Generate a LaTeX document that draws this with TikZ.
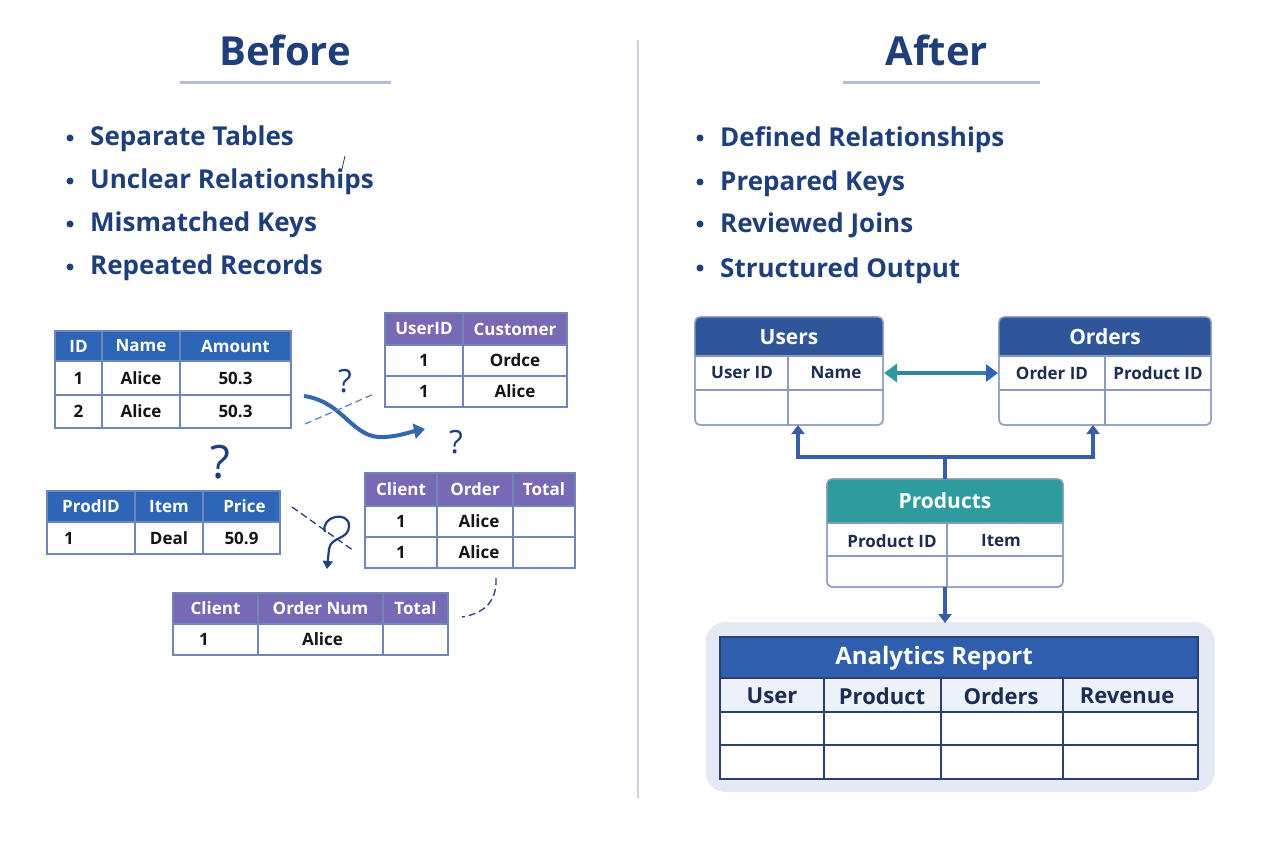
\documentclass[tikz,border=0pt]{standalone}
\usepackage{fontspec}
\setmainfont{Open Sans}
\usetikzlibrary{arrows.meta,calc}
\definecolor{navy}{HTML}{1F3F7A}
\definecolor{hblue}{HTML}{2D66B7}
\definecolor{hpurple}{HTML}{7869B6}
\definecolor{tborder}{HTML}{6F86B8}
\definecolor{celltxt}{HTML}{151515}
\definecolor{hdark}{HTML}{2F5699}
\definecolor{tealh}{HTML}{2E9C9E}
\definecolor{conn}{HTML}{3A5DA8}
\definecolor{rbord}{HTML}{8C9CC0}
\definecolor{subtxt}{HTML}{1C2D52}
\definecolor{abg}{HTML}{E3E9F5}
\definecolor{ahead}{HTML}{2F5EAE}
\definecolor{arow}{HTML}{EDF1F9}
\definecolor{aborder}{HTML}{2B3F73}
\definecolor{divc}{HTML}{C9D2E3}
\definecolor{uline}{HTML}{B4BDD5}
\definecolor{curvec}{HTML}{3468AD}
\newcommand\fs[1]{\fontsize{#1}{#1}\selectfont}
\newcommand\tcell[7]{\node[#6, minimum width={(#4)-(#2)}, minimum height={(#5)-(#3)}] (#1) at ({((#2)+(#4))/2},{((#3)+(#5))/2}) {#7};}
\tikzset{
  base/.style={inner sep=0pt, outer sep=0pt, rectangle},
  hb/.style={base, draw=tborder, line width=1.2pt, fill=hblue, text=white, font=\bfseries\fs{17}},
  hp/.style={base, draw=tborder, line width=1.2pt, fill=hpurple, text=white, font=\bfseries\fs{17}},
  bc/.style={base, draw=tborder, line width=1.2pt, fill=white, text=celltxt, font=\bfseries\fs{17}},
  title/.style={inner sep=0pt, text=navy, font=\bfseries\fs{40}, anchor=base},
  bul/.style={circle, fill=navy, inner sep=0pt, minimum size=7pt},
  btxt/.style={inner sep=0pt, text=navy, font=\bfseries\fs{26}, anchor=base west},
  qm/.style={inner sep=0pt, text=navy, font=\fs{32}},
  rframe/.style={base, draw=rbord, line width=1.3pt, fill=white, rounded corners=5pt},
  rtitle/.style={inner sep=0pt, text=white, font=\bfseries\fs{21}},
  rsub/.style={inner sep=0pt, text=subtxt, font=\bfseries\fs{17}},
  asub/.style={inner sep=0pt, text=subtxt, font=\bfseries\fs{22}},
  connl/.style={draw=conn, line width=3.5pt},
  tip/.style={-{Triangle[width=13pt,length=9pt]}},
}
\begin{document}
\begin{tikzpicture}[x=1pt,y=-1pt]
\useasboundingbox (0,0) rectangle (1280,853);
\fill[white] (0,0) rectangle (1280,853);

% divider
\draw[divc, line width=1.5pt] (638,40) -- (638,798);

% titles
\node[title] (tbefore) at (285,66) {Before};
\draw[uline, line width=3pt] (180,83) -- (391,83);
\node[title] (tafter) at (937,66) {After};
\draw[uline, line width=3pt] (843,83) -- (1040,83);

% left bullets
\node[bul] (lb1) at (70,138) {};
\node[btxt] (lt1) at (90,146) {Separate Tables};
\node[bul] (lb2) at (70,181) {};
\node[btxt] (lt2) at (90,189) {Unclear Relationships};
\node[bul] (lb3) at (70,224) {};
\node[btxt] (lt3) at (90,232) {Mismatched Keys};
\node[bul] (lb4) at (70,267) {};
\node[btxt] (lt4) at (90,275) {Repeated Records};
\draw[navy, line width=0.8pt] (342,169) -- (345,156);

% right bullets
\node[bul] (rb1) at (700,138) {};
\node[btxt] (rt1) at (720,147) {Defined Relationships};
\node[bul] (rb2) at (700,182) {};
\node[btxt] (rt2) at (720,191) {Prepared Keys};
\node[bul] (rb3) at (700,224) {};
\node[btxt] (rt3) at (720,233) {Reviewed Joins};
\node[bul] (rb4) at (700,268) {};
\node[btxt] (rt4) at (720,277) {Structured Output};

% ---------- Left tables ----------
% T1
\tcell{a11}{55}{331}{102}{361}{hb}{ID}
\tcell{a12}{102}{331}{180}{361}{hb}{Name}
\tcell{a13}{180}{331}{291}{361}{hb}{Amount}
\tcell{a21}{55}{361}{102}{395}{bc}{1}
\tcell{a22}{102}{361}{180}{395}{bc}{Alice}
\tcell{a23}{180}{361}{291}{395}{bc}{50.3}
\tcell{a31}{55}{395}{102}{428}{bc}{2}
\tcell{a32}{102}{395}{180}{428}{bc}{Alice}
\tcell{a33}{180}{395}{291}{428}{bc}{50.3}

% T2
\tcell{b11}{385}{313}{463}{345}{hp}{UserID}
\tcell{b12}{463}{313}{567}{345}{hp}{Customer}
\tcell{b21}{385}{345}{463}{376}{bc}{1}
\tcell{b22}{463}{345}{567}{376}{bc}{Ordce}
\tcell{b31}{385}{376}{463}{407}{bc}{1}
\tcell{b32}{463}{376}{567}{407}{bc}{Alice}

% T3
\tcell{c11}{47}{491}{135}{522}{hb}{ProdID}
\tcell{c12}{135}{491}{203}{522}{hb}{Item}
\tcell{c13}{203}{491}{280}{522}{hb}{\hspace{6pt}Price}
\tcell{c21}{47}{522}{135}{554}{bc}{}
\node[inner sep=0pt, text=celltxt, font=\bfseries\fs{17}, anchor=west] (c21t) at ([xshift=17pt]c21.west) {1};
\tcell{c22}{135}{522}{203}{554}{bc}{Deal}
\tcell{c23}{203}{522}{280}{554}{bc}{50.9}

% T4
\tcell{d11}{365}{473}{437}{506}{hp}{Client}
\tcell{d12}{437}{473}{513}{506}{hp}{Order}
\tcell{d13}{513}{473}{575}{506}{hp}{Total}
\tcell{d21}{365}{506}{437}{537}{bc}{1}
\tcell{d22}{437}{506}{513}{537}{bc}{\hspace{8pt}Alice}
\tcell{d23}{513}{506}{575}{537}{bc}{}
\tcell{d31}{365}{537}{437}{568}{bc}{1}
\tcell{d32}{437}{537}{513}{568}{bc}{\hspace{8pt}Alice}
\tcell{d33}{513}{537}{575}{568}{bc}{}

% T5
\tcell{e11}{173}{593}{258}{624}{hp}{Client}
\tcell{e12}{258}{593}{383}{624}{hp}{Order Num}
\tcell{e13}{383}{593}{448}{624}{hp}{Total}
\tcell{e21}{173}{624}{258}{655}{bc}{}
\node[inner sep=0pt, text=celltxt, font=\bfseries\fs{17}, anchor=west] (e21t) at ([xshift=26pt]e21.west) {1};
\tcell{e22}{258}{624}{383}{655}{bc}{\hspace{4pt}Alice}
\tcell{e23}{383}{624}{448}{655}{bc}{}

% confusing connectors
\coordinate (cv0) at (304,396);
\coordinate (cv1) at (425,429);
\draw[curvec, line width=4pt, -{Triangle[width=15pt,length=11pt]}]
  (cv0) .. controls (345,402) and (352,440) .. (385,437) .. controls (400,436) and (410,432) .. (cv1);
\coordinate (ds0) at (305,424);
\coordinate (ds1) at (374,394);
\draw[curvec!80, line width=1.3pt, dash pattern=on 7pt off 4pt] (ds0) -- (ds1);
\node[qm] (q1) at (345,381) {?};
\node[qm] (q2) at (456,442) {?};
\node[inner sep=0pt, text=navy, font=\fs{46}] (q3) at (220,462) {?};

\coordinate (ds2) at (292,507);
\coordinate (ds3) at (354,551);
\draw[navy, line width=1.3pt, dash pattern=on 7pt off 4pt] (ds2) -- (ds3);
\coordinate (qc) at (327,569);
\draw[navy, line width=2.2pt, -{Triangle[width=10pt,length=8pt]}]
  (325,532) .. controls (320,516) and (349,510) .. (349,526)
  .. controls (349,540) and (331,536) .. (329,549) -- (qc);

\coordinate (ds4) at (496,578);
\coordinate (ds5) at (462,617);
\draw[navy, line width=1.3pt, dash pattern=on 7pt off 4pt]
  (ds4) .. controls (497,600) and (486,613) .. (ds5);

% ---------- Right side ----------
% Users
\node[rframe, minimum width=188, minimum height=108] (users) at (789,371) {};
\fill[hdark] (695,356) [rounded corners=5pt] -- (695,317) -- (883,317) [sharp corners] -- (883,356) -- cycle;
\draw[rbord, line width=1.3pt] (695,356) -- (883,356) (695,390) -- (883,390) (788,356) -- (788,425);
\draw[rbord, line width=1.3pt, rounded corners=5pt] (695,317) rectangle (883,425);
\node[rtitle] (usersT) at (789,337) {Users};
\node[rsub] (uid) at (742,373) {User ID};
\node[rsub] (uname) at (836,373) {Name};

% Orders
\node[rframe, minimum width=212, minimum height=108] (orders) at (1105,371) {};
\fill[hdark] (999,356) [rounded corners=5pt] -- (999,317) -- (1211,317) [sharp corners] -- (1211,356) -- cycle;
\draw[rbord, line width=1.3pt] (999,356) -- (1211,356) (999,390) -- (1211,390) (1105,356) -- (1105,425);
\draw[rbord, line width=1.3pt, rounded corners=5pt] (999,317) rectangle (1211,425);
\node[rtitle] (ordersT) at (1105,337) {Orders};
\node[rsub] (oid) at (1052,373) {Order ID};
\node[rsub] (opid) at (1158,373) {Product ID};

% double arrow
\draw[line width=4.5pt, tealh!55!hblue, {Triangle[width=18pt,length=13pt,color=tealh]}-{Triangle[width=17pt,length=12pt,color=hblue]}, shorten <=1pt, shorten >=1pt]
  (users.east |- uname) -- (orders.west |- oid);

% Products
\node[rframe, minimum width=236, minimum height=108] (prod) at (945,533) {};
\fill[tealh] (827,523) [rounded corners=5pt] -- (827,479) -- (1063,479) [sharp corners] -- (1063,523) -- cycle;
\draw[rbord, line width=1.3pt] (827,523) -- (1063,523) (827,556) -- (1063,556) (947,523) -- (947,587);
\draw[rbord, line width=1.3pt, rounded corners=5pt] (827,479) rectangle (1063,587);
\node[rtitle] (prodT) at (945,501) {Products};
\node[rsub] (ppid) at (892,541) {Product ID};
\node[rsub] (pitem) at (1001,541) {Item};

% connectors products -> users / orders
\coordinate (jn) at (945,457);
\draw[connl] (prod.north) -- (jn);
\draw[connl, tip] ([xshift=-27pt]jn) -| ([xshift=9pt]users.south);
\draw[connl, tip] ([xshift=27pt]jn) -| ([xshift=-12pt]orders.south);
\draw[connl] ([xshift=-30pt]jn) -- ([xshift=30pt]jn);

% Analytics
\node[base, fill=abg, rounded corners=20pt, minimum width=509, minimum height=170] (abox) at (960,707) {};
\draw[connl, tip] (prod.south) -- ([yshift=-1pt]prod.south |- abox.north);
\fill[ahead] (720,637) rectangle (1198,678);
\fill[arow] (720,678) rectangle (1198,712);
\fill[white] (720,712) rectangle (1198,779);
\draw[aborder, line width=1.4pt] (720,637) rectangle (1198,779)
  (720,678) -- (1198,678) (720,712) -- (1198,712) (720,745) -- (1198,745)
  (824,678) -- (824,779) (941,678) -- (941,779) (1063,678) -- (1063,779);
\node[inner sep=0pt, text=white, font=\bfseries\fs{24}] (areport) at (934,658) {Analytics Report};
\node[asub] (aus) at (772,696) {User};
\node[asub] (apr) at (882,696) {Product};
\node[asub] (aor) at (1001,696) {Orders};
\node[asub] (are) at (1127,696) {Revenue};
\end{tikzpicture}
\end{document}
